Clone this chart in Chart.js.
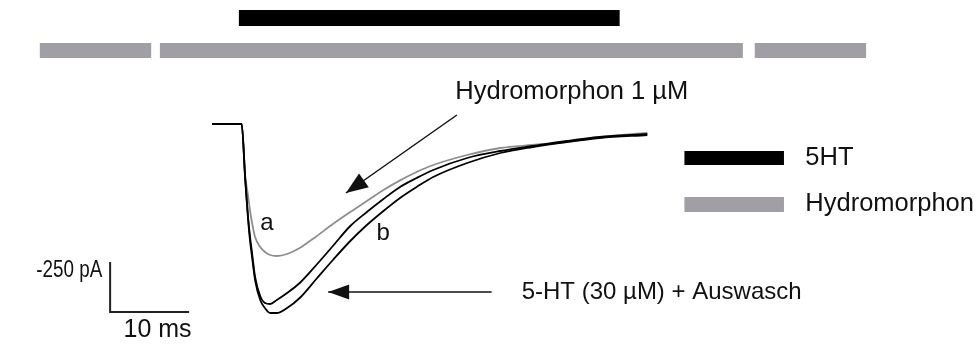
<!DOCTYPE html>
<html lang="de">
<head>
    <meta charset="UTF-8">
    <title>5-HT Strom mit Hydromorphon</title>
    <script src="https://cdn.jsdelivr.net/npm/chart.js"></script>
    <style>
        html, body { margin: 0; padding: 0; background: #fff; }
        .wrap-chart { width: 976px; height: 346px; position: relative; }
    </style>
</head>
<body>
<div class="wrap-chart">
    <canvas id="myChart"></canvas>
</div>
<script>
    // Zeitachse der Stromspuren (ms) und Ströme (pA)
    const timeMs = [0, 3.75, 4.2, 4.55, 4.8, 5.05, 5.45, 6.1, 6.7, 7.35, 8.2, 9.5, 11.1, 13.2, 15.3, 17.5, 19.6, 21.7, 23.8, 25.9, 28.0, 32.3, 36.5, 40.6, 44.9, 49.1, 55.1];
    const ht5Current = [0, 0, -270, -460, -560, -640, -765, -860, -895, -900, -880, -845, -795, -705, -610, -510, -440, -375, -315, -270, -230, -170, -135, -110, -85, -65, -50];
    const washCurrent = [0, 0, -280, -470, -580, -660, -780, -880, -920, -945, -945, -920, -870, -775, -680, -585, -505, -435, -370, -315, -265, -195, -145, -115, -90, -70, -55];
    const hydroCurrent = [0, 0, -260, -355, -430, -490, -565, -615, -640, -655, -660, -650, -620, -562, -500, -440, -385, -330, -282, -240, -205, -155, -120, -105, -90, -65, -45];

    // Applikationsbalken oben: [start, ende] in ms
    const ht5Bar = [3.4, 51.6];
    const hydroBars = [[-21.8, -7.7], [-6.6, 67.2], [68.7, 82.8]];
    const ht5BarLevel = 530;
    const hydroBarLevel = 367;

    // Legende
    const legendBarX = [59.8, 72.4];
    const legendLevels = [-170, -402];
    const legendLabels = ['5HT', 'Hydromorphon'];

    // Skalierung: 10 ms, 250 pA
    const scaleOrigin = [-12.9, -940];
    const scaleMs = 10;
    const scalePa = 250;

    // Pfeile: [von t, von I, nach t, nach I]
    const arrows = [
        [31.0, 45, 16.95, -345],
        [35.4, -840, 14.7, -840]
    ];

    // Beschriftungen: [text, t, I, ausrichtung, schriftgröße]
    const labels = [
        ['Hydromorphon 1 µM', 30.8, 160, 'left', 25.5],
        ['5-HT (30 µM) + Auswasch', 39.2, -840, 'left', 24],
        ['a', 6.96, -495, 'center', 24],
        ['b', 21.65, -545, 'center', 24],
        ['-250 pA', -13.9, -730, 'right', 24],
        ['10 ms', -6.9, -1030, 'center', 25]
    ];

    const GREY_BAR = '#a19fa5';
    const GREY_TRACE = '#8e8e8e';
    const FONT_FAMILY = '"Liberation Sans", Arial, sans-serif';

    function toXY(xs, ys) {
        return xs.map((x, i) => ({ x: x, y: ys[i] }));
    }

    function segment(x0, x1, y0, y1, color, width, order) {
        return {
            data: [{ x: x0, y: y0 }, { x: x1, y: y1 }],
            borderColor: color,
            borderWidth: width,
            borderCapStyle: 'butt',
            pointRadius: 0,
            fill: false,
            order: order
        };
    }

    function trace(label, values, color, order) {
        return {
            label: label,
            data: toXY(timeMs, values),
            borderColor: color,
            borderWidth: 1.8,
            pointRadius: 0,
            cubicInterpolationMode: 'monotone',
            order: order
        };
    }

    const datasets = [];
    datasets.push(trace('Hydromorphon 1 µM', hydroCurrent, GREY_TRACE, 5));
    datasets.push(trace('5-HT', ht5Current, '#000', 4));
    datasets.push(trace('Auswasch', washCurrent, '#000', 4));
    // Grundlinie vor dem Sprung
    datasets.push(segment(timeMs[0], timeMs[1], 0, 0, '#000', 2, 3));

    datasets.push(segment(ht5Bar[0], ht5Bar[1], ht5BarLevel, ht5BarLevel, '#000', 16, 1));
    hydroBars.forEach(b => datasets.push(segment(b[0], b[1], hydroBarLevel, hydroBarLevel, GREY_BAR, 15, 1)));

    datasets.push(segment(legendBarX[0], legendBarX[1], legendLevels[0], legendLevels[0], '#000', 14, 1));
    datasets.push(segment(legendBarX[0], legendBarX[1], legendLevels[1], legendLevels[1], GREY_BAR, 15, 1));

    datasets.push({
        data: [
            { x: scaleOrigin[0], y: scaleOrigin[1] + scalePa },
            { x: scaleOrigin[0], y: scaleOrigin[1] },
            { x: scaleOrigin[0] + scaleMs, y: scaleOrigin[1] }
        ],
        borderColor: '#222',
        borderWidth: 2,
        borderJoinStyle: 'miter',
        borderCapStyle: 'butt',
        pointRadius: 0,
        fill: false,
        order: 1
    });

    arrows.forEach(a => datasets.push(segment(a[0], a[2], a[1], a[3], '#111', 1.5, 1)));

    // Pfeilspitzen und Texte
    const annotate = {
        id: 'annotate',
        afterDatasetsDraw(chart) {
            const ctx = chart.ctx;
            const sx = chart.scales.x;
            const sy = chart.scales.y;
            ctx.save();
            ctx.fillStyle = '#111';
            arrows.forEach((a, i) => {
                const x0 = sx.getPixelForValue(a[0]), y0 = sy.getPixelForValue(a[1]);
                const x1 = sx.getPixelForValue(a[2]), y1 = sy.getPixelForValue(a[3]);
                const ang = Math.atan2(y1 - y0, x1 - x0);
                const len = i === 0 ? 22 : 21;
                const half = i === 0 ? 8.5 : 7.5;
                const bx = x1 - Math.cos(ang) * len, by = y1 - Math.sin(ang) * len;
                ctx.beginPath();
                ctx.moveTo(x1, y1);
                ctx.lineTo(bx + Math.sin(ang) * half, by - Math.cos(ang) * half);
                ctx.lineTo(bx - Math.sin(ang) * half, by + Math.cos(ang) * half);
                ctx.closePath();
                ctx.fill();
            });

            ctx.textBaseline = 'middle';
            labels.forEach(l => {
                ctx.font = l[4] + 'px ' + FONT_FAMILY;
                ctx.textAlign = l[3];
                if (l[0] === '-250 pA') {
                    // schmaler gesetzt, rechtsbündig am Skalenbalken
                    ctx.fillText(l[0], sx.getPixelForValue(l[1]), sy.getPixelForValue(l[2]), 66);
                } else {
                    ctx.fillText(l[0], sx.getPixelForValue(l[1]), sy.getPixelForValue(l[2]));
                }
            });
            ctx.font = '25.5px ' + FONT_FAMILY;
            ctx.textAlign = 'left';
            legendLabels.forEach((t, i) => {
                ctx.fillText(t, sx.getPixelForValue(legendBarX[1] + 2.7), sy.getPixelForValue(legendLevels[i]));
            });
            ctx.restore();
        }
    };

    const chart = new Chart(document.getElementById('myChart'), {
        type: 'line',
        data: { datasets: datasets },
        options: {
            responsive: true,
            maintainAspectRatio: false,
            animation: false,
            layout: { padding: 0 },
            plugins: {
                legend: { display: false },
                tooltip: { enabled: false }
            },
            scales: {
                x: { type: 'linear', min: -26.84, max: 96.71, display: false },
                y: { type: 'linear', min: -1110, max: 620, display: false }
            }
        },
        plugins: [annotate]
    });
</script>
</body>
</html>
